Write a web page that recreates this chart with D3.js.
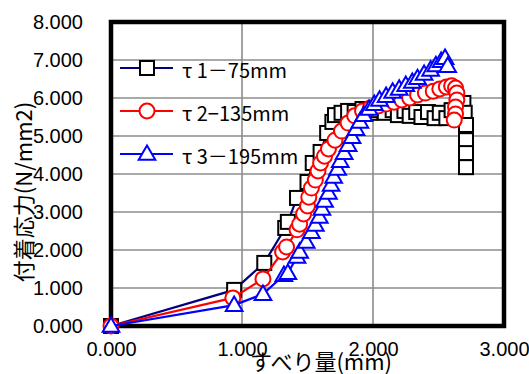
<!DOCTYPE html>
<html>
<head>
<meta charset="utf-8">
<script src="https://cdn.jsdelivr.net/npm/d3@7"></script>
<style>
  body { margin: 0; background: #fff; }
  text { font-family: "Liberation Sans", Arial, sans-serif; }
  .jp { font-family: "Noto Sans CJK JP", sans-serif; }
</style>
</head>
<body>
<svg id="chart" width="529" height="374"></svg>
<script>
// tick values
var xTicks = [0, 1, 2, 3];
var yTicks = [0, 1, 2, 3, 4, 5, 6, 7, 8];

var seriesNames = ["τ 1－75mm", "τ 2−135mm", "τ 3－195mm"];

// τ1 - 75mm
var s1x = [0, 0.94, 1.17, 1.33, 1.35, 1.42, 1.50, 1.54, 1.60, 1.65, 1.69, 1.71, 1.76, 1.81, 1.86, 1.92, 1.98, 2.04, 2.09,
  2.15, 2.19, 2.24, 2.28, 2.33, 2.37, 2.42, 2.47, 2.51, 2.56, 2.60, 2.65, 2.69, 2.70, 2.71, 2.71, 2.71, 2.71];
var s1y = [0, 0.95, 1.66, 2.58, 2.74, 3.37, 3.79, 4.29, 4.58, 5.08, 5.37, 5.55, 5.61, 5.66, 5.63, 5.71, 5.61, 5.68, 5.61,
  5.68, 5.55, 5.66, 5.53, 5.63, 5.50, 5.63, 5.47, 5.61, 5.47, 5.68, 5.79, 5.87, 5.61, 5.29, 4.89, 4.55, 4.18];

// τ2 - 135mm
var s2x = [0, 0.93, 1.16, 1.31, 1.34, 1.42, 1.44, 1.47, 1.50, 1.51, 1.53, 1.56, 1.58, 1.60, 1.63, 1.66, 1.71, 1.76, 1.81,
  1.86, 1.92, 1.98, 2.04, 2.10, 2.16, 2.22, 2.28, 2.34, 2.40, 2.46, 2.51, 2.56, 2.60, 2.63, 2.64, 2.64, 2.63, 2.63, 2.62];
var s2y = [0, 0.74, 1.24, 1.95, 2.08, 2.53, 2.68, 2.95, 3.16, 3.39, 3.63, 3.84, 4.08, 4.29, 4.47, 4.66, 4.89, 5.13, 5.34,
  5.53, 5.66, 5.74, 5.79, 5.84, 5.89, 5.95, 6.00, 6.08, 6.13, 6.18, 6.24, 6.29, 6.32, 6.26, 6.13, 5.95, 5.76, 5.58, 5.42];

// τ3 - 195mm
var s3x = [0, 0.94, 1.16, 1.32, 1.35, 1.42, 1.44, 1.49, 1.53, 1.56, 1.59, 1.61, 1.63, 1.66, 1.68, 1.70, 1.73, 1.75, 1.78,
  1.81, 1.84, 1.87, 1.90, 1.93, 1.97, 2.01, 2.05, 2.10, 2.15, 2.20, 2.25, 2.30, 2.34, 2.39, 2.44, 2.48, 2.52, 2.55, 2.57];
var s3y = [0, 0.55, 0.84, 1.34, 1.39, 1.82, 1.95, 2.21, 2.47, 2.66, 2.87, 3.08, 3.29, 3.50, 3.71, 3.92, 4.13, 4.34, 4.55,
  4.76, 4.97, 5.18, 5.37, 5.55, 5.71, 5.84, 5.95, 6.05, 6.16, 6.24, 6.34, 6.42, 6.52, 6.63, 6.74, 6.86, 6.97, 7.05, 6.84];

var svg = d3.select("#chart"),
  margin = { top: 22, right: 25, bottom: 48, left: 111 },
  width = +svg.attr("width") - margin.left - margin.right,
  height = +svg.attr("height") - margin.top - margin.bottom;

var x = d3.scaleLinear().domain([0, 3]).range([margin.left, margin.left + width]);
var y = d3.scaleLinear().domain([0, 8]).range([margin.top + height, margin.top]);

var colors = [
  { line: "#000080", marker: "#000000" },
  { line: "#ff0000", marker: "#ff0000" },
  { line: "#0000ff", marker: "#0000ff" }
];
var shapes = ["square", "circle", "triangle"];

function zipSeries(xs, ys) {
  return xs.map(function (v, i) { return { x: v, y: ys[i] }; });
}
var series = [zipSeries(s1x, s1y), zipSeries(s2x, s2y), zipSeries(s3x, s3y)];

// grid
svg.append("g")
  .selectAll("line.h")
  .data(yTicks.slice(1, -1))
  .enter().append("line")
  .attr("x1", x(0)).attr("x2", x(3))
  .attr("y1", function (d) { return y(d); })
  .attr("y2", function (d) { return y(d); })
  .attr("stroke", "#8c8c8c")
  .attr("stroke-width", 1.6);

svg.append("g")
  .selectAll("line.v")
  .data(xTicks.slice(1, -1))
  .enter().append("line")
  .attr("y1", y(0)).attr("y2", y(8))
  .attr("x1", function (d) { return x(d); })
  .attr("x2", function (d) { return x(d); })
  .attr("stroke", "#8c8c8c")
  .attr("stroke-width", 1.6);

// axes (labels only, the frame is drawn separately)
var xAxis = d3.axisBottom(x).tickValues(xTicks).tickFormat(d3.format(".3f")).tickSize(0).tickPadding(16);
var yAxis = d3.axisLeft(y).tickValues(yTicks).tickFormat(d3.format(".3f")).tickSize(0).tickPadding(28);

svg.append("g")
  .attr("transform", "translate(0," + y(0) + ")")
  .call(xAxis)
  .call(function (g) { g.select(".domain").remove(); })
  .selectAll("text")
  .attr("font-size", 20)
  .attr("fill", "#000")
  .style("font-family", "'Liberation Sans', Arial, sans-serif");

svg.append("g")
  .attr("transform", "translate(" + x(0) + ",0)")
  .call(yAxis)
  .call(function (g) { g.select(".domain").remove(); })
  .selectAll("text")
  .attr("font-size", 20)
  .attr("fill", "#000")
  .style("font-family", "'Liberation Sans', Arial, sans-serif");

// frame
svg.append("rect")
  .attr("x", x(0))
  .attr("y", y(8))
  .attr("width", x(3) - x(0))
  .attr("height", y(0) - y(8))
  .attr("fill", "none")
  .attr("stroke", "#000")
  .attr("stroke-width", 4.5);

// axis titles
svg.append("text")
  .attr("class", "jp")
  .attr("x", 321)
  .attr("y", 360)
  .attr("text-anchor", "middle")
  .attr("dominant-baseline", "central")
  .attr("font-size", 22)
  .text("すべり量(mm)");

svg.append("text")
  .attr("class", "jp")
  .attr("transform", "translate(22,192) rotate(-90)")
  .attr("text-anchor", "middle")
  .attr("dominant-baseline", "central")
  .attr("font-size", 22)
  .text("付着応力(N/mm2)");

function drawMarker(g, shape, color) {
  if (shape === "square") {
    g.append("rect")
      .attr("x", -7).attr("y", -7)
      .attr("width", 14).attr("height", 14)
      .attr("fill", "#fff")
      .attr("stroke", color)
      .attr("stroke-width", 2);
  } else if (shape === "circle") {
    g.append("circle")
      .attr("r", 7.5)
      .attr("fill", "#fff")
      .attr("stroke", color)
      .attr("stroke-width", 2);
  } else {
    g.append("path")
      .attr("d", d3.symbol().type(d3.symbolTriangle).size(120)())
      .attr("transform", "translate(0,1)")
      .attr("fill", "#fff")
      .attr("stroke", color)
      .attr("stroke-width", 2);
  }
}

var line = d3.line()
  .x(function (d) { return x(d.x); })
  .y(function (d) { return y(d.y); });

series.forEach(function (data, i) {
  var g = svg.append("g").attr("class", "series");
  g.append("path")
    .datum(data)
    .attr("d", line)
    .attr("fill", "none")
    .attr("stroke", colors[i].line)
    .attr("stroke-width", 2.2);

  g.selectAll("g.pt")
    .data(data)
    .enter().append("g")
    .attr("class", "pt")
    .attr("transform", function (d) { return "translate(" + x(d.x) + "," + y(d.y) + ")"; })
    .each(function () { drawMarker(d3.select(this), shapes[i], colors[i].marker); });
});

// legend
var legendY = [68, 111, 154];
var legend = svg.append("g").attr("class", "legend");
seriesNames.forEach(function (name, i) {
  var row = legend.append("g").attr("transform", "translate(0," + legendY[i] + ")");
  row.append("line")
    .attr("x1", 120).attr("x2", 173)
    .attr("stroke", colors[i].line)
    .attr("stroke-width", 2.2);
  drawMarker(row.append("g").attr("transform", "translate(147,0)"), shapes[i], colors[i].marker);
  row.append("text")
    .attr("class", "jp")
    .attr("x", 182)
    .attr("y", 1)
    .attr("dominant-baseline", "central")
    .attr("font-size", 20)
    .text(name);
});
</script>
</body>
</html>
